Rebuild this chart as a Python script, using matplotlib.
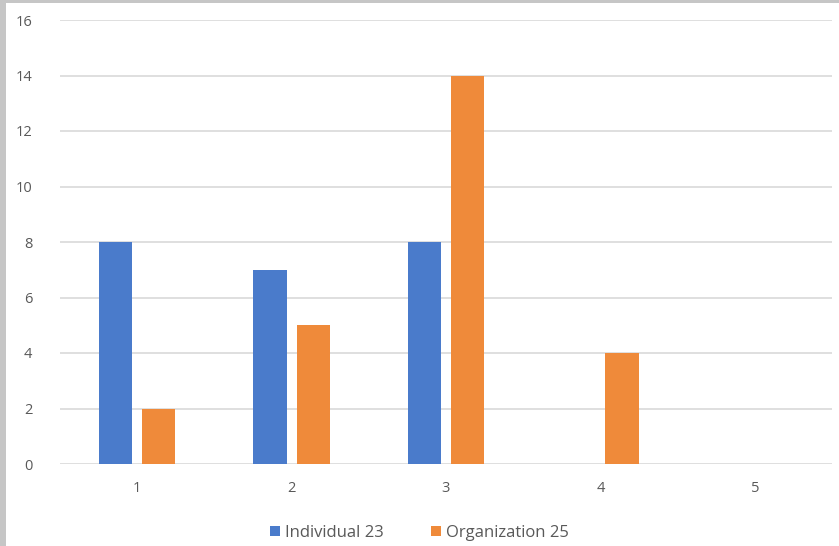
import matplotlib
matplotlib.use("Agg")
import matplotlib.pyplot as plt
from matplotlib.patches import Rectangle
import numpy as np

categories = ["1", "2", "3", "4", "5"]
individual = [8, 7, 8, 0, 0]
organization = [2, 5, 14, 4, 0]
series_names = ["Individual 23", "Organization 25"]
colors = ["#4a7bcb", "#ef8a3a"]

plt.rcParams["font.family"] = ["Open Sans", "DejaVu Sans"]

fig = plt.figure(figsize=(8.39, 5.46), dpi=100)
fig.patch.set_facecolor("white")

# light grey frame strips along the left and top edges
fig.patches.append(Rectangle((0, 0), 6 / 839, 1, transform=fig.transFigure,
                             facecolor="#c6c6c6", edgecolor="none", zorder=0))
fig.patches.append(Rectangle((0, 1 - 3 / 546), 1, 3 / 546, transform=fig.transFigure,
                             facecolor="#c6c6c6", edgecolor="none", zorder=0))

ax = fig.add_axes([60 / 839, 1 - 464 / 546, 772 / 839, 444 / 546])
x = np.arange(1, len(categories) + 1)
w = 0.215
off = 0.14
ax.bar(x - off, individual, width=w, color=colors[0], label=series_names[0], zorder=3)
ax.bar(x + off, organization, width=w, color=colors[1], label=series_names[1], zorder=3)

ax.set_xlim(0.5, 5.5)
ax.set_ylim(0, 16)
ax.set_yticks(range(0, 17, 2))
ax.set_xticks(x)
ax.set_xticklabels(categories)
ax.yaxis.grid(True, color="#d9d9d9", linewidth=1.2, zorder=0)
ax.set_axisbelow(True)
for s in ax.spines.values():
    s.set_visible(False)
ax.tick_params(axis="both", length=0, labelcolor="#595959", labelsize=10.5)
ax.tick_params(axis="y", pad=20)
ax.tick_params(axis="x", pad=12)

leg = fig.legend(loc="center", bbox_to_anchor=(0.5, 1 - 533 / 546), ncol=2,
                 frameon=False, fontsize=12, handlelength=0.6, handleheight=0.6,
                 handletextpad=0.3, columnspacing=2.8)
for t in leg.get_texts():
    t.set_color("#595959")

fig.savefig("out.png", dpi=100, facecolor="white")
